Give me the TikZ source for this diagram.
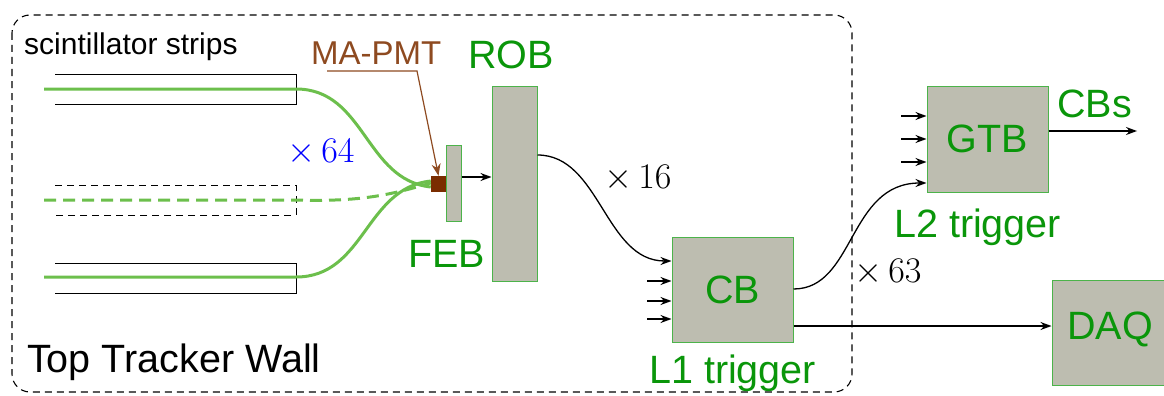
\documentclass[tikz,border=0pt]{standalone}
\usepackage{fontspec}
\setmainfont{Liberation Sans}
\usetikzlibrary{arrows.meta}
\definecolor{boxfill}{HTML}{BDBDB0}
\definecolor{boxline}{HTML}{4CB34A}
\definecolor{lbl}{HTML}{0A960A}
\definecolor{fiber}{HTML}{6CBF4C}
\definecolor{pmt}{HTML}{7A2C00}
\definecolor{pmtline}{HTML}{8E4A20}
\newcommand{\mtimes}[1]{\scalebox{1.45}{\fontsize{24.88}{26}\selectfont$\times\,#1$}}
\begin{document}
\begin{tikzpicture}[x=1pt,y=-1pt,
  box/.style={draw=boxline, fill=boxfill, line width=1pt, inner sep=0pt},
  lab/.style={text=lbl, inner sep=0pt, anchor=base west, font=\fontsize{39.5}{40}\selectfont},
  mult/.style={inner sep=0pt, anchor=base west},
  conn/.style={line width=1.3pt, -{Stealth[length=11pt,width=8pt]}},
  fib/.style={draw=fiber, line width=3pt},
  strip/.style={line width=1pt}]
\useasboundingbox (0,0) rectangle (1164,396);
% outer dashed wall
\draw[line width=1.1pt, dash pattern=on 7pt off 5pt, rounded corners=18pt] (12,15) rectangle (852,392);
% strips
\draw[strip] (55,74) -- (296,74) -- (296,104) -- (55,104);
\draw[strip, dash pattern=on 7pt off 5pt] (55,185) -- (296,185) -- (296,215) -- (55,215);
\draw[strip] (55,263) -- (296,263) -- (296,293) -- (55,293);
% boxes
\node[box, minimum width=15pt, minimum height=76pt] (feb) at (453.5,183) {};
\node[draw=none, fill=pmt, minimum width=15pt, minimum height=16pt, inner sep=0pt] (pmt) at (438.5,184) {};
\node[box, minimum width=45pt, minimum height=195pt] (rob) at (514.5,183.5) {};
\node[box, minimum width=121pt, minimum height=105pt] (cb) at (732.5,289.5) {};
\node[box, minimum width=121pt, minimum height=106pt] (gtb) at (987.5,139) {};
\node[box, minimum width=125pt, minimum height=105pt] (daq) at (1114.5,332.5) {};
% fibers
\coordinate (f1) at (44,89);
\coordinate (f2) at (44,200);
\coordinate (f3) at (44,277);
\draw[fib] (f1) -- (296,89) .. controls (365,89) and (365,180) .. ([yshift=-3pt]pmt.west);
\draw[fib, dash pattern=on 12pt off 7pt] (f2) -- (296,200) .. controls (360,202) and (390,195) .. ([yshift=1pt]pmt.west);
\draw[fib] (f3) -- (296,277) .. controls (365,277) and (365,188) .. ([yshift=3pt]pmt.west);
% texts
\node[inner sep=0pt, anchor=base west, font=\fontsize{30}{31}\selectfont] (scint) at (24,55) {scintillator strips};
\node[inner sep=0pt, anchor=base west, font=\fontsize{39.5}{40}\selectfont] (ttw) at (27,372) {Top Tracker Wall};
\node[inner sep=0pt, anchor=base west, text=pmtline, font=\fontsize{33}{34}\selectfont] (pmtlab) at (311,65) {MA-PMT};
\node[lab] (roblab) at (468,68) {ROB};
\node[lab] (feblab) at (408,267) {FEB};
\node[lab] (l1) at (649,383) {L1 trigger};
\node[lab] (l2) at (894,237) {L2 trigger};
\node[lab] (cbs) at (1057,117) {CBs};
\node[text=lbl, inner sep=0pt, font=\fontsize{39.5}{40}\selectfont] at (cb.center) {CB};
\node[text=lbl, inner sep=0pt, font=\fontsize{39.5}{40}\selectfont] at (gtb.center) {GTB};
\node[text=lbl, inner sep=0pt, font=\fontsize{39.5}{40}\selectfont] at (1110,329) {DAQ};
\node[mult, text=blue] (m64) at (287,162) {\mtimes{64}};
\node[mult] (m16) at (604,188) {\mtimes{16}};
\node[mult] (m63) at (854,282) {\mtimes{63}};
% MA-PMT pointer
\coordinate (pk) at (417,71);
\draw[pmtline, line width=1.2pt, -{Stealth[length=12pt,width=9pt]}] (327,71) -- (pk) -- (pmt.north);
% connectors
\draw[conn] (feb.east |- 0,177) -- (rob.west |- 0,177);
\draw[conn] (rob.east |- 0,155) .. controls (600,155) and (605,261) .. (cb.west |- 0,261);
\foreach \yy in {281,301,319} {
  \coordinate (ci\yy) at (647,\yy);
  \draw[conn] (ci\yy) -- (cb.west |- ci\yy);
}
\foreach \yy in {116,139,162} {
  \coordinate (gi\yy) at (901,\yy);
  \draw[conn] (gi\yy) -- (gtb.west |- gi\yy);
}
\draw[conn] (cb.east |- 0,289) .. controls (855,289) and (848,183) .. (gtb.west |- 0,183);
\coordinate (cbsend) at (1137,131);
\draw[conn] (gtb.east |- cbsend) -- (cbsend);
\draw[conn] (cb.east |- 0,326) -- (daq.west |- 0,326);
\end{tikzpicture}
\end{document}
